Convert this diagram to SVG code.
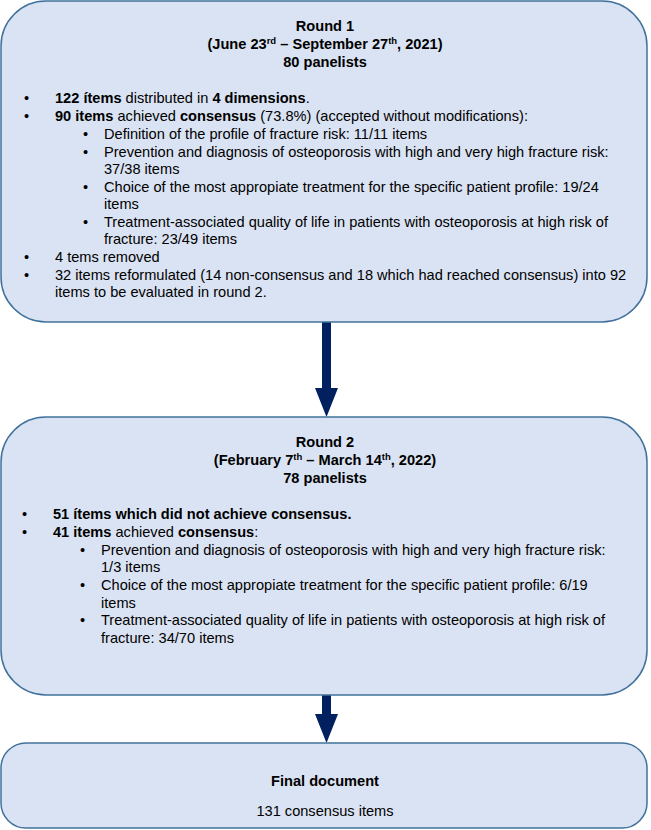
<svg xmlns="http://www.w3.org/2000/svg" width="651" height="830" viewBox="0 0 651 830">
<style>
.box{fill:#dae3f3;stroke:#41719c;stroke-width:1.5}
.t{font-family:"Liberation Sans",Arial,sans-serif;font-size:14.6px;fill:#000}
.h{font-weight:bold;text-anchor:middle}
.b{font-weight:bold}
.sup{font-size:9.5px}
.arrow{fill:#002060}
</style>
<g id="connectors">
<polygon class="arrow" points="322,322 331,322 331,388 338,388 326.5,417 315,388 322,388"/>
<polygon class="arrow" points="322,695 331,695 331,714 338,714 326.5,743 315,714 322,714"/>
</g>
<g id="round1">
<rect class="box" x="1" y="1" width="646" height="321" rx="45" ry="45"/>
<text class="t h" x="325" y="31">Round 1</text>
<text class="t h" x="325" y="49">(June 23<tspan class="sup" dy="-5">rd</tspan><tspan dy="5"> – September 27</tspan><tspan class="sup" dy="-5">th</tspan><tspan dy="5">, 2021)</tspan></text>
<text class="t h" x="325" y="67">80 panelists</text>
<text class="t" x="24" y="103">•</text>
<text class="t" x="55" y="103"><tspan class="b">122 ítems</tspan> distributed in <tspan class="b">4 dimensions</tspan>.</text>
<text class="t" x="24" y="121">•</text>
<text class="t" x="55" y="121"><tspan class="b">90 items</tspan> achieved <tspan class="b">consensus</tspan> (73.8%) (accepted without modifications):</text>
<text class="t" x="83" y="139">•</text>
<text class="t" x="104" y="139">Definition of the profile of fracture risk: 11/11 items</text>
<text class="t" x="83" y="157">•</text>
<text class="t" x="104" y="157">Prevention and diagnosis of osteoporosis with high and very high fracture risk:</text>
<text class="t" x="104" y="174">37/38 items</text>
<text class="t" x="83" y="192">•</text>
<text class="t" x="104" y="192">Choice of the most appropiate treatment for the specific patient profile: 19/24</text>
<text class="t" x="104" y="209">items</text>
<text class="t" x="83" y="227">•</text>
<text class="t" x="104" y="227">Treatment-associated quality of life in patients with osteoporosis at high risk of</text>
<text class="t" x="104" y="244">fracture: 23/49 items</text>
<text class="t" x="24" y="262">•</text>
<text class="t" x="55" y="262">4 tems removed</text>
<text class="t" x="24" y="280">•</text>
<text class="t" x="55" y="280">32 items reformulated (14 non-consensus and 18 which had reached consensus) into 92</text>
<text class="t" x="55" y="297">items to be evaluated in round 2.</text>
</g>
<g id="round2">
<rect class="box" x="1" y="417" width="646" height="278" rx="45" ry="45"/>
<text class="t h" x="325" y="447">Round 2</text>
<text class="t h" x="325" y="465">(February 7<tspan class="sup" dy="-5">th</tspan><tspan dy="5"> – March 14</tspan><tspan class="sup" dy="-5">th</tspan><tspan dy="5">, 2022)</tspan></text>
<text class="t h" x="325" y="483">78 panelists</text>
<text class="t" x="22" y="519">•</text>
<text class="t b" x="53" y="519">51 ítems which did not achieve consensus.</text>
<text class="t" x="22" y="537">•</text>
<text class="t" x="53" y="537"><tspan class="b">41 items</tspan> achieved <tspan class="b">consensus</tspan>:</text>
<text class="t" x="80" y="555">•</text>
<text class="t" x="101" y="555">Prevention and diagnosis of osteoporosis with high and very high fracture risk:</text>
<text class="t" x="101" y="572">1/3 items</text>
<text class="t" x="80" y="590">•</text>
<text class="t" x="101" y="590">Choice of the most appropiate treatment for the specific patient profile: 6/19</text>
<text class="t" x="101" y="608">items</text>
<text class="t" x="80" y="625">•</text>
<text class="t" x="101" y="625">Treatment-associated quality of life in patients with osteoporosis at high risk of</text>
<text class="t" x="101" y="643">fracture: 34/70 items</text>
</g>
<g id="final">
<rect class="box" x="1" y="743" width="646" height="85" rx="25" ry="25"/>
<text class="t h" x="325" y="786">Final document</text>
<text class="t" x="325" y="816" text-anchor="middle">131 consensus items</text>
</g>
</svg>
